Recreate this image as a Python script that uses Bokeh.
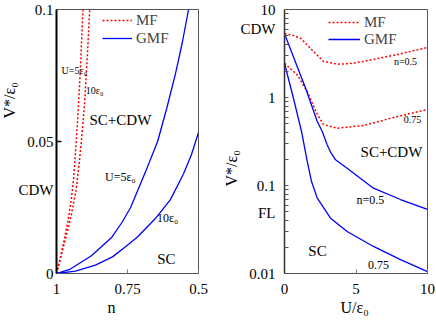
from bokeh.plotting import figure
from bokeh.models import Range1d, FixedTicker, Label, Legend, LegendItem, Title
from bokeh.layouts import row
from bokeh.embed import file_html
from bokeh.resources import INLINE

SERIF = "Liberation Serif"

# ---- left panel: V*/eps0 versus n ----
mf_n_u5 = [1.0, 0.986, 0.972, 0.960, 0.949, 0.940, 0.932, 0.924, 0.915, 0.907]
mf_v_u5 = [0.0, 0.0063, 0.0131, 0.0198, 0.0272, 0.0355, 0.0478, 0.0608, 0.0795, 0.1]
mf_n_u10 = [1.0, 0.986, 0.972, 0.958, 0.944, 0.931, 0.921, 0.912, 0.901, 0.892, 0.883]
mf_v_u10 = [0.0, 0.0056, 0.0116, 0.0175, 0.0243, 0.0317, 0.0410, 0.0504, 0.0646, 0.0813, 0.1]
gmf_n_u5 = [1.0, 0.951, 0.877, 0.806, 0.768, 0.739, 0.687, 0.644, 0.612, 0.581, 0.557, 0.535]
gmf_v_u5 = [0.0, 0.0017, 0.0067, 0.0136, 0.0196, 0.0250, 0.0384, 0.0500, 0.0625, 0.0757, 0.0875, 0.1]
gmf_n_u10 = [1.0, 0.933, 0.863, 0.803, 0.757, 0.715, 0.651, 0.599, 0.553, 0.525, 0.5]
gmf_v_u10 = [0.0, 0.0009, 0.0032, 0.0063, 0.0101, 0.0138, 0.0209, 0.0280, 0.0377, 0.0450, 0.0534]

left_xticks = [1, 0.75, 0.5]
left_xlabels = ["1", "0.75", "0.5"]
left_yticks = [0, 0.0317, 0.05, 0.1]
left_ylabels = ["0", "CDW", "0.05", "0.1"]
left_ymarks = [0.05]

# ---- right panel: V*/eps0 versus U/eps0 (log) ----
mf_u_n05 = [0.0, 0.5, 1.12, 2.03, 2.73, 3.71, 4.5, 5.52, 7.9, 10.0]
mf_v_n05 = [5.3, 5.15, 4.72, 3.33, 2.57, 2.39, 2.42, 2.57, 3.08, 3.70]
mf_u_n075 = [0.0, 0.89, 1.59, 2.29, 2.73, 3.71, 5.52, 7.9, 10.0]
mf_v_n075 = [2.45, 1.81, 1.17, 0.641, 0.493, 0.448, 0.481, 0.608, 0.731]
gmf_u_n05 = [0.0, 1.47, 2.29, 2.64, 2.98, 3.22, 3.57, 4.38, 6.22, 8.11, 10.0]
gmf_v_n05 = [5.3, 1.28, 0.534, 0.411, 0.290, 0.240, 0.196, 0.157, 0.0932, 0.0693, 0.0534]
gmf_u_n075 = [0.0, 0.63, 1.19, 1.59, 1.89, 2.29, 3.22, 4.38, 6.22, 8.11, 10.0]
gmf_v_n075 = [2.45, 0.974, 0.411, 0.1875, 0.111, 0.0718, 0.0425, 0.030, 0.0203, 0.0144, 0.0105]

right_xticks = [0, 5, 10]
right_xlabels = ["0", "5", "10"]
right_yticks = [0.01, 0.0481, 0.1, 1, 6.08, 10]
right_ylabels = ["0.01", "FL", "0.1", "1", "CDW", "10"]
right_ymarks = [m * 10.0 ** e for e in (-2, -1, 0) for m in range(1, 10)][1:]

RED = "#ff0000"
BLUE = "#0000ff"


def style(p):
    p.grid.visible = False
    p.outline_line_color = "#555555"
    p.outline_line_width = 1
    for ax in (p.xaxis[0], p.yaxis[0]):
        ax.major_label_text_font = SERIF
        ax.major_label_text_font_size = "15px"
        ax.major_label_text_color = "black"
        ax.major_tick_out = 0
        ax.minor_tick_out = 0
        ax.axis_line_color = "#555555"
    p.xaxis.major_tick_in = 4
    p.xaxis.major_tick_line_color = "#777777"
    p.xaxis.minor_tick_line_color = None
    p.xaxis.major_label_standoff = 10
    p.yaxis.major_tick_in = 0
    p.yaxis.minor_tick_in = 5
    p.yaxis.minor_tick_line_color = "#333333"


def lab(p, x, y, text, size):
    p.add_layout(Label(x=x, y=y, text=text, text_font=SERIF,
                       text_font_size=size, text_color="black",
                       text_align="center", text_baseline="middle"))


def title(p, text, side, offset, standoff):
    p.add_layout(Title(text=text, align="left", offset=offset, standoff=standoff,
                       text_font=SERIF, text_font_size="16px", text_line_height=1.0,
                       text_font_style="normal", text_color="black"), side)


def legend(p, r, text, vx, vy, gw):
    p.add_layout(Legend(items=[LegendItem(label=text, renderers=[r])],
                        location=(vx, vy), background_fill_alpha=0, border_line_alpha=0,
                        padding=0, margin=0, spacing=0, label_height=30,
                        glyph_height=30, glyph_width=gw, label_standoff=4,
                        label_text_font=SERIF, label_text_font_size="15px",
                        click_policy="none"))


# ------------------------- left figure -------------------------
p1 = figure(width=218, height=327, x_range=Range1d(1, 0.5), y_range=Range1d(0, 0.1),
            output_backend="svg", toolbar_location=None,
            min_border_left=56, min_border_right=20, min_border_top=9, min_border_bottom=54)
style(p1)
p1.xaxis.ticker = FixedTicker(ticks=left_xticks)
p1.xaxis.major_label_overrides = dict(zip(left_xticks, left_xlabels))
p1.yaxis.ticker = FixedTicker(ticks=left_yticks, minor_ticks=left_ymarks)
p1.yaxis.major_label_overrides = dict(zip(left_yticks, left_ylabels))
p1.yaxis.axis_line_color = "black"
p1.yaxis.axis_line_width = 2
p1.yaxis.minor_tick_line_color = "black"
p1.yaxis.minor_tick_line_width = 1.5
p1.yaxis.major_label_standoff = 3

a1 = p1.line(mf_n_u5, mf_v_u5, line_color=RED, line_dash="2 2", line_width=1.5)
p1.line(mf_n_u10, mf_v_u10, line_color=RED, line_dash="2 2", line_width=1.5)
b1 = p1.line(gmf_n_u5, gmf_v_u5, line_color=BLUE, line_width=1.3)
p1.line(gmf_n_u10, gmf_v_u10, line_color=BLUE, line_width=1.3)
legend(p1, a1, "MF", 46, 238, 30)
legend(p1, b1, "GMF", 46, 220, 30)

lab(p1, 0.937, 0.0769, "U=5ε₀", "10px")
lab(p1, 0.866, 0.0694, "10ε₀", "10px")
lab(p1, 0.775, 0.0582, "SC+CDW", "15px")
lab(p1, 0.775, 0.0366, "U=5ε₀", "12px")
lab(p1, 0.609, 0.0209, "10ε₀", "12px")
lab(p1, 0.613, 0.0056, "SC", "15px")
title(p1, "V*/ε₀", "left", 155, -4)
title(p1, "n", "below", 51, 1)

# ------------------------- right figure -------------------------
p2 = figure(width=218, height=327, x_range=Range1d(0, 10), y_range=Range1d(0.01, 10),
            y_axis_type="log", output_backend="svg", toolbar_location=None,
            min_border_left=66, min_border_right=9, min_border_top=9, min_border_bottom=54)
style(p2)
p2.xaxis.ticker = FixedTicker(ticks=right_xticks)
p2.xaxis.major_label_overrides = dict(zip(right_xticks, right_xlabels))
p2.yaxis.ticker = FixedTicker(ticks=right_yticks, minor_ticks=right_ymarks)
p2.yaxis.major_label_overrides = dict(zip(right_yticks, right_ylabels))
p2.yaxis.axis_line_color = "#333333"
p2.yaxis.axis_line_width = 1.5
p2.yaxis.minor_tick_in = 4
p2.yaxis.minor_tick_line_color = "#555555"
p2.yaxis.major_label_standoff = 9

a2 = p2.line(mf_u_n05, mf_v_n05, line_color=RED, line_dash="2 2", line_width=1.5)
p2.line(mf_u_n075, mf_v_n075, line_color=RED, line_dash="2 2", line_width=1.5)
b2 = p2.line(gmf_u_n05, gmf_v_n05, line_color=BLUE, line_width=1.3)
p2.line(gmf_u_n075, gmf_v_n075, line_color=BLUE, line_width=1.3)
legend(p2, a2, "MF", 44, 236, 32)
legend(p2, b2, "GMF", 44, 219, 32)

lab(p2, 8.46, 2.57, "n=0.5", "10px")
lab(p2, 8.95, 0.562, "0.75", "10px")
lab(p2, 7.48, 0.243, "SC+CDW", "15px")
lab(p2, 6.01, 0.0693, "n=0.5", "12px")
lab(p2, 2.31, 0.0182, "SC", "15px")
lab(p2, 6.57, 0.01265, "0.75", "12px")
title(p2, "V*/ε₀", "left", 87, -4)
title(p2, "U/ε₀", "below", 56, 1)

layout = row(p1, p2)
open("out.html", "w").write(file_html(layout, INLINE))
